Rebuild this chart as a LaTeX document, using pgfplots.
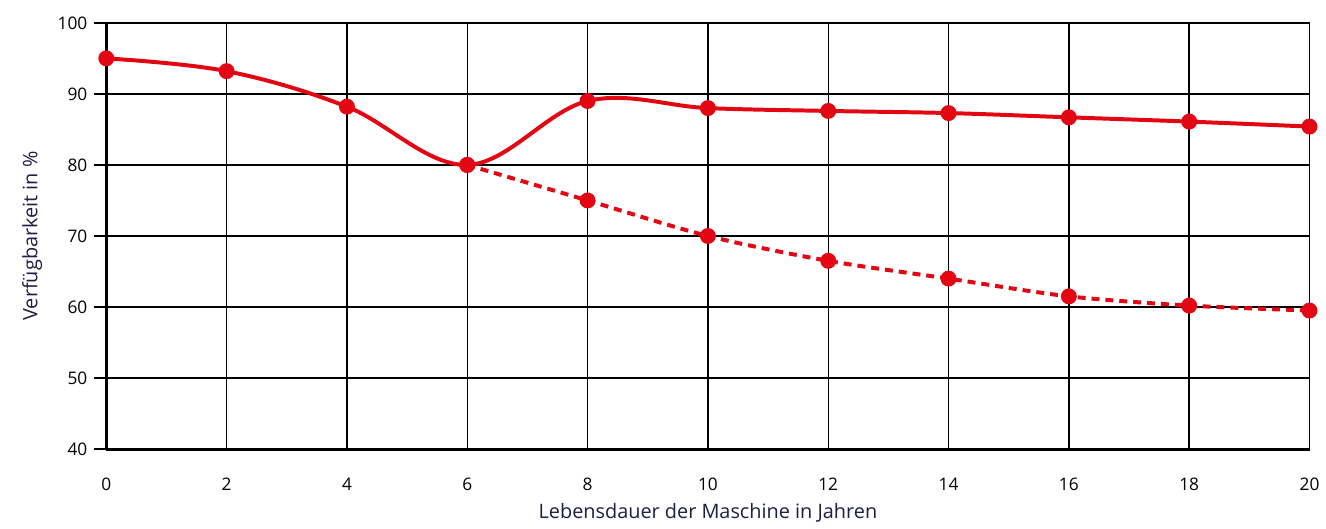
\documentclass[border=0pt]{standalone}
\usepackage{fontspec}
\setmainfont{Open Sans}
\usepackage{pgfplots}
\pgfplotsset{compat=1.18}
\definecolor{lred}{RGB}{227,6,19}
\definecolor{navy}{RGB}{30,30,70}
\begin{document}
\begin{tikzpicture}
\begin{axis}[
    scale only axis,
    width=605.5pt, height=214.5pt,
    xmin=0, xmax=20, ymin=40, ymax=100,
    xtick={0,2,...,20},
    ytick={40,50,...,100},
    axis lines=left,
    axis line style={-, line width=1.5pt, black},
    grid=major,
    grid style={black, line width=0.7pt},
    tick align=outside,
    tick style={black, line width=0.8pt},
    x tick style={draw=none},
    major tick length=6pt,
    extra x ticks={0},
    extra x tick labels={},
    extra x tick style={tick style={draw=black, line width=1.5pt}, major tick length=5.5pt},
    xticklabel style={yshift=-5pt},
    ticklabel style={font=\fontsize{8.7}{10}\selectfont},
    /pgf/number format/assume math mode=true,
    xlabel={Lebensdauer der Maschine in Jahren},
    ylabel={Verfügbarkeit in \%},
    label style={font=\fontsize{10}{12}\selectfont, text=navy},
    xlabel style={yshift=12pt},
    ylabel style={yshift=1pt},
    clip=false,
]
\addplot[lred, line width=2pt, dash pattern=on 4pt off 3pt, smooth, tension=0.5,
    mark=*, mark size=3pt, mark options={solid, fill=lred, draw=lred}]
coordinates {(6,80)(8,75)(10,70)(12,66.5)(14,64)(16,61.5)(18,60.2)(20,59.5)};
\addplot[lred, line width=2pt, smooth, tension=0.6,
    mark=*, mark size=3pt, mark options={fill=lred, draw=lred}]
coordinates {(0,95)(2,93.2)(4,88.2)(6,80)(8,89)(10,88)(12,87.6)(14,87.3)(16,86.7)(18,86.1)(20,85.4)};
\end{axis}
\path ([shift={(-53.5pt,-32pt)}]current axis.south west) rectangle ([shift={(4pt,11.5pt)}]current axis.north east);
\end{tikzpicture}
\end{document}
